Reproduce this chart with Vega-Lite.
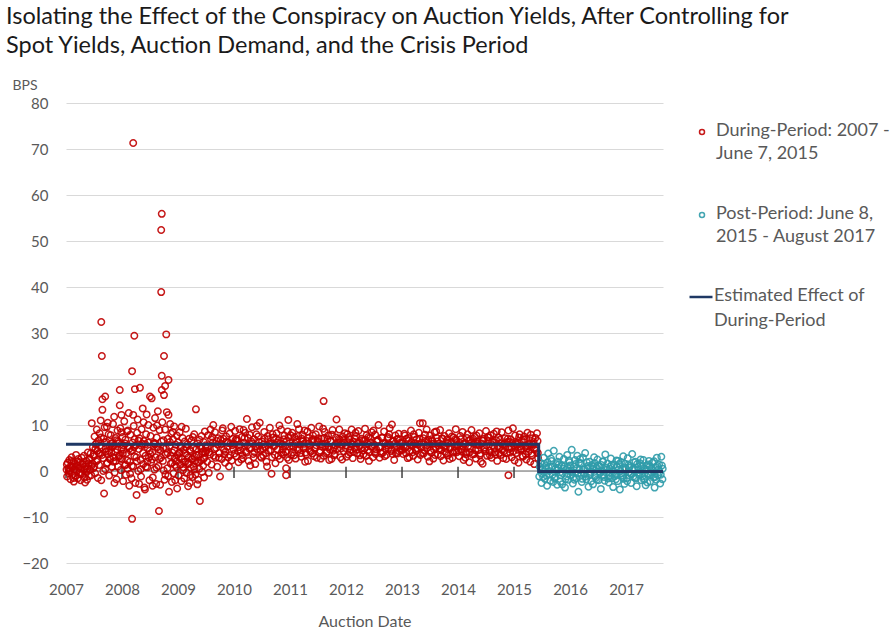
{
"$schema": "https://vega.github.io/schema/vega-lite/v6.json",
"width": 597,
"height": 460,
"autosize": "none",
"padding": {"left": 66, "top": 103, "right": 231, "bottom": 69},
"background": "white",
"title": {
  "text": ["Isolating the Effect of the Conspiracy on Auction Yields, After Controlling for", "Spot Yields, Auction Demand, and the Crisis Period"],
  "anchor": "start", "frame": "group", "dx": -60, "offset": 21,
  "font": "Lato", "fontSize": 23.5, "fontWeight": "normal", "color": "#1a1a1a", "lineHeight": 29
},
"config": {"view": {"stroke": null}},
"datasets": {
"during": [
{"x":2007.01,"y":0.3},{"x":2007.02,"y":-1.2},{"x":2007.03,"y":1.8},{"x":2007.04,"y":0.6},{"x":2007.05,"y":-0.5},{"x":2007.06,"y":2.4},{"x":2007.07,"y":0.1},{"x":2007.08,"y":-1.8},{"x":2007.09,"y":1.1},{"x":2007.10,"y":3.0},{"x":2007.11,"y":-0.8},{"x":2007.12,"y":0.9},{"x":2007.13,"y":2.0},{"x":2007.14,"y":-2.3},{"x":2007.15,"y":0.4},{"x":2007.16,"y":1.5},{"x":2007.17,"y":-1.0},{"x":2007.18,"y":3.5},{"x":2007.19,"y":0.0},{"x":2007.20,"y":1.2},{"x":2007.21,"y":-1.6},{"x":2007.22,"y":2.6},{"x":2007.23,"y":0.7},{"x":2007.24,"y":-0.3},{"x":2007.25,"y":1.9},{"x":2007.26,"y":-2.0},{"x":2007.27,"y":0.8},{"x":2007.28,"y":2.9},{"x":2007.29,"y":-0.6},{"x":2007.30,"y":1.4},{"x":2007.31,"y":0.2},{"x":2007.32,"y":3.3},{"x":2007.33,"y":-1.4},{"x":2007.34,"y":-2.5},{"x":2007.35,"y":1.0},{"x":2007.36,"y":2.2},{"x":2007.37,"y":-0.2},{"x":2007.38,"y":0.5},{"x":2007.39,"y":4.0},{"x":2007.40,"y":1.7},{"x":2007.41,"y":-1.1},{"x":2007.42,"y":2.7},{"x":2007.43,"y":0.3},{"x":2007.44,"y":3.8},{"x":2007.45,"y":-0.9},{"x":2007.46,"y":10.4},{"x":2007.47,"y":1.6},{"x":2007.48,"y":5.2},{"x":2007.49,"y":0.6},
{"x":2007.015,"y":1.4},{"x":2007.055,"y":-0.1},{"x":2007.095,"y":2.2},{"x":2007.135,"y":-1.5},{"x":2007.175,"y":0.9},{"x":2007.215,"y":2.0},{"x":2007.255,"y":-0.7},{"x":2007.295,"y":1.6},{"x":2007.335,"y":0.4},{"x":2007.375,"y":-1.9},{"x":2007.415,"y":2.4},{"x":2007.455,"y":1.1},{"x":2007.495,"y":3.6},
{"x":2007.50,"y":3.2},{"x":2007.51,"y":7.5},{"x":2007.52,"y":-0.5},{"x":2007.53,"y":5.8},{"x":2007.54,"y":2.1},{"x":2007.55,"y":9.0},{"x":2007.56,"y":4.4},{"x":2007.57,"y":-1.5},{"x":2007.58,"y":6.6},{"x":2007.59,"y":1.3},{"x":2007.60,"y":8.2},{"x":2007.61,"y":3.7},{"x":2007.62,"y":11.0},{"x":2007.63,"y":32.4},{"x":2007.63,"y":-2.0},{"x":2007.64,"y":25.0},{"x":2007.64,"y":5.1},{"x":2007.65,"y":15.6},{"x":2007.65,"y":13.3},{"x":2007.66,"y":2.8},{"x":2007.67,"y":7.0},{"x":2007.68,"y":-4.9},{"x":2007.69,"y":9.5},{"x":2007.70,"y":16.2},{"x":2007.70,"y":0.4},{"x":2007.71,"y":4.9},{"x":2007.72,"y":6.3},{"x":2007.73,"y":9.6},{"x":2007.74,"y":1.8},{"x":2007.75,"y":3.6},{"x":2007.76,"y":8.0},{"x":2007.77,"y":-1.0},{"x":2007.78,"y":5.4},{"x":2007.79,"y":2.5},{"x":2007.80,"y":7.8},{"x":2007.81,"y":4.0},{"x":2007.82,"y":0.9},{"x":2007.83,"y":6.1},{"x":2007.84,"y":10.2},{"x":2007.85,"y":3.0},{"x":2007.86,"y":11.8},{"x":2007.86,"y":5.6},{"x":2007.87,"y":-0.3},{"x":2007.88,"y":7.2},{"x":2007.89,"y":2.2},{"x":2007.90,"y":-1.8},{"x":2007.91,"y":4.7},{"x":2007.92,"y":8.8},{"x":2007.93,"y":1.0},{"x":2007.94,"y":6.0},{"x":2007.95,"y":3.4},{"x":2007.96,"y":17.6},{"x":2007.96,"y":14.3},{"x":2007.97,"y":9.3},{"x":2007.98,"y":0.2},{"x":2007.99,"y":12.2},{"x":2007.99,"y":5.0},
{"x":2007.505,"y":1.0},{"x":2007.545,"y":6.0},{"x":2007.585,"y":3.9},{"x":2007.625,"y":7.3},{"x":2007.665,"y":0.0},{"x":2007.705,"y":4.2},{"x":2007.745,"y":10.5},{"x":2007.785,"y":2.7},{"x":2007.825,"y":5.2},{"x":2007.865,"y":-2.6},{"x":2007.905,"y":6.7},{"x":2007.945,"y":3.1},{"x":2007.985,"y":8.4},
{"x":2007.525,"y":4.8},{"x":2007.565,"y":2.4},{"x":2007.605,"y":5.5},{"x":2007.645,"y":3.5},{"x":2007.685,"y":6.2},{"x":2007.725,"y":1.6},{"x":2007.765,"y":4.4},{"x":2007.805,"y":5.9},{"x":2007.845,"y":2.0},{"x":2007.885,"y":4.1},{"x":2007.925,"y":6.4},{"x":2007.965,"y":2.7},
{"x":2008.00,"y":2.6},{"x":2008.01,"y":7.4},{"x":2008.02,"y":-2.2},{"x":2008.03,"y":4.6},{"x":2008.04,"y":10.8},{"x":2008.05,"y":1.2},{"x":2008.06,"y":6.8},{"x":2008.07,"y":-0.8},{"x":2008.08,"y":3.9},{"x":2008.09,"y":8.6},{"x":2008.10,"y":0.5},{"x":2008.11,"y":5.3},{"x":2008.12,"y":12.6},{"x":2008.13,"y":-3.2},{"x":2008.14,"y":2.0},{"x":2008.15,"y":7.9},{"x":2008.16,"y":4.3},{"x":2008.17,"y":-1.6},{"x":2008.18,"y":21.7},{"x":2008.18,"y":-10.4},{"x":2008.19,"y":6.2},{"x":2008.20,"y":71.3},{"x":2008.20,"y":12.2},{"x":2008.20,"y":1.0},{"x":2008.21,"y":9.8},{"x":2008.22,"y":29.4},{"x":2008.22,"y":3.2},{"x":2008.23,"y":17.8},{"x":2008.24,"y":-2.6},{"x":2008.25,"y":5.6},{"x":2008.26,"y":-5.2},{"x":2008.27,"y":8.3},{"x":2008.28,"y":11.2},{"x":2008.29,"y":0.0},{"x":2008.30,"y":4.8},{"x":2008.31,"y":7.1},{"x":2008.32,"y":18.1},{"x":2008.33,"y":2.4},{"x":2008.34,"y":-1.2},{"x":2008.35,"y":9.1},{"x":2008.36,"y":5.9},{"x":2008.37,"y":13.6},{"x":2008.38,"y":1.5},{"x":2008.39,"y":6.5},{"x":2008.40,"y":-3.6},{"x":2008.41,"y":-4.0},{"x":2008.42,"y":3.3},{"x":2008.43,"y":8.0},{"x":2008.44,"y":12.3},{"x":2008.45,"y":0.8},{"x":2008.46,"y":5.0},{"x":2008.47,"y":10.0},{"x":2008.48,"y":2.9},{"x":2008.49,"y":-2.0},{"x":2008.50,"y":16.2},
{"x":2008.025,"y":5.6},{"x":2008.065,"y":1.4},{"x":2008.105,"y":8.8},{"x":2008.145,"y":-0.6},{"x":2008.185,"y":4.5},{"x":2008.225,"y":6.9},{"x":2008.265,"y":2.1},{"x":2008.305,"y":-2.8},{"x":2008.345,"y":5.5},{"x":2008.385,"y":10.6},{"x":2008.425,"y":0.9},{"x":2008.465,"y":6.2},{"x":2008.505,"y":3.7},
{"x":2008.015,"y":3.8},{"x":2008.055,"y":6.0},{"x":2008.095,"y":2.3},{"x":2008.135,"y":4.9},{"x":2008.175,"y":1.1},{"x":2008.215,"y":5.2},{"x":2008.255,"y":3.0},{"x":2008.295,"y":6.6},{"x":2008.335,"y":0.4},{"x":2008.375,"y":3.9},{"x":2008.415,"y":5.8},{"x":2008.455,"y":2.0},{"x":2008.495,"y":4.4},
{"x":2008.51,"y":7.6},{"x":2008.52,"y":1.9},{"x":2008.53,"y":15.8},{"x":2008.54,"y":4.1},{"x":2008.55,"y":-1.4},{"x":2008.56,"y":9.4},{"x":2008.57,"y":6.0},{"x":2008.58,"y":0.3},{"x":2008.59,"y":11.5},{"x":2008.60,"y":3.0},{"x":2008.61,"y":-2.8},{"x":2008.62,"y":7.3},{"x":2008.63,"y":5.2},{"x":2008.64,"y":13.0},{"x":2008.65,"y":1.1},{"x":2008.66,"y":-8.7},{"x":2008.67,"y":8.9},{"x":2008.68,"y":-3.0},{"x":2008.69,"y":4.5},{"x":2008.70,"y":52.4},{"x":2008.70,"y":38.9},{"x":2008.71,"y":55.9},{"x":2008.71,"y":20.7},{"x":2008.71,"y":17.6},{"x":2008.72,"y":10.6},{"x":2008.73,"y":2.2},{"x":2008.74,"y":6.7},{"x":2008.75,"y":25.0},{"x":2008.75,"y":16.5},{"x":2008.76,"y":-1.9},{"x":2008.77,"y":18.5},{"x":2008.77,"y":9.0},{"x":2008.78,"y":3.6},{"x":2008.79,"y":29.7},{"x":2008.80,"y":12.8},{"x":2008.81,"y":0.6},{"x":2008.82,"y":7.0},{"x":2008.83,"y":19.8},{"x":2008.83,"y":12.2},{"x":2008.84,"y":-4.5},{"x":2008.85,"y":5.5},{"x":2008.86,"y":10.2},{"x":2008.87,"y":1.6},{"x":2008.88,"y":8.1},{"x":2008.89,"y":-2.4},{"x":2008.90,"y":4.0},{"x":2008.91,"y":6.9},{"x":2008.92,"y":-0.5},{"x":2008.93,"y":9.7},{"x":2008.94,"y":2.8},{"x":2008.95,"y":-2.0},{"x":2008.96,"y":5.7},{"x":2008.97,"y":0.9},{"x":2008.98,"y":7.7},{"x":2008.99,"y":3.5},
{"x":2008.545,"y":-3.2},{"x":2008.585,"y":5.8},{"x":2008.625,"y":9.9},{"x":2008.665,"y":2.6},{"x":2008.705,"y":6.4},{"x":2008.745,"y":0.1},{"x":2008.785,"y":4.9},{"x":2008.825,"y":-1.1},{"x":2008.865,"y":3.3},{"x":2008.905,"y":8.5},{"x":2008.945,"y":1.3},{"x":2008.985,"y":-3.8},
{"x":2008.535,"y":2.5},{"x":2008.575,"y":6.1},{"x":2008.615,"y":0.7},{"x":2008.655,"y":4.7},{"x":2008.695,"y":2.9},{"x":2008.735,"y":5.0},{"x":2008.775,"y":-0.8},{"x":2008.815,"y":3.9},{"x":2008.855,"y":6.3},{"x":2008.895,"y":1.8},{"x":2008.935,"y":4.5},{"x":2008.975,"y":2.1},
{"x":2009.00,"y":6.2},{"x":2009.01,"y":-1.0},{"x":2009.02,"y":3.9},{"x":2009.03,"y":8.4},{"x":2009.04,"y":1.4},{"x":2009.05,"y":5.1},{"x":2009.06,"y":-2.2},{"x":2009.07,"y":2.6},{"x":2009.08,"y":7.2},{"x":2009.09,"y":0.2},{"x":2009.10,"y":4.6},{"x":2009.11,"y":-1.6},{"x":2009.12,"y":6.4},{"x":2009.13,"y":2.0},{"x":2009.14,"y":9.2},{"x":2009.15,"y":-0.4},{"x":2009.16,"y":3.4},{"x":2009.17,"y":5.8},{"x":2009.18,"y":-3.3},{"x":2009.19,"y":1.7},{"x":2009.20,"y":7.0},{"x":2009.21,"y":-2.6},{"x":2009.22,"y":4.3},{"x":2009.23,"y":0.7},{"x":2009.24,"y":6.6},{"x":2009.25,"y":2.5},{"x":2009.26,"y":-1.3},{"x":2009.27,"y":5.0},{"x":2009.28,"y":1.0},{"x":2009.29,"y":8.0},{"x":2009.30,"y":3.1},{"x":2009.31,"y":-0.8},{"x":2009.32,"y":13.4},{"x":2009.33,"y":4.8},{"x":2009.34,"y":1.9},{"x":2009.35,"y":6.0},{"x":2009.36,"y":-1.9},{"x":2009.37,"y":3.6},{"x":2009.38,"y":0.5},{"x":2009.39,"y":-6.5},{"x":2009.40,"y":5.4},{"x":2009.41,"y":2.3},{"x":2009.42,"y":7.6},{"x":2009.43,"y":-0.2},{"x":2009.44,"y":4.2},{"x":2009.45,"y":1.2},{"x":2009.46,"y":6.3},{"x":2009.47,"y":2.9},{"x":2009.48,"y":8.6},{"x":2009.49,"y":4.0},
{"x":2009.025,"y":4.0},{"x":2009.065,"y":9.6},{"x":2009.105,"y":1.9},{"x":2009.145,"y":5.2},{"x":2009.185,"y":3.0},{"x":2009.225,"y":-0.9},{"x":2009.265,"y":7.4},{"x":2009.305,"y":2.2},{"x":2009.345,"y":-2.9},{"x":2009.385,"y":6.8},{"x":2009.425,"y":3.8},{"x":2009.465,"y":-1.4},{"x":2009.495,"y":5.0},
{"x":2009.015,"y":3.0},{"x":2009.055,"y":5.5},{"x":2009.095,"y":0.8},{"x":2009.135,"y":3.8},{"x":2009.175,"y":1.5},{"x":2009.215,"y":4.6},{"x":2009.255,"y":2.7},{"x":2009.295,"y":0.3},{"x":2009.335,"y":3.5},{"x":2009.375,"y":1.9},{"x":2009.415,"y":4.9},{"x":2009.455,"y":2.6},
{"x":2009.50,"y":5.6},{"x":2009.52,"y":2.0},{"x":2009.54,"y":7.8},{"x":2009.56,"y":4.1},{"x":2009.58,"y":9.0},{"x":2009.60,"y":1.4},{"x":2009.62,"y":6.2},{"x":2009.64,"y":3.3},{"x":2009.66,"y":8.4},{"x":2009.68,"y":5.0},{"x":2009.70,"y":0.9},{"x":2009.72,"y":7.1},{"x":2009.74,"y":3.9},{"x":2009.76,"y":6.8},{"x":2009.78,"y":2.6},{"x":2009.80,"y":9.3},{"x":2009.82,"y":4.6},{"x":2009.84,"y":1.8},{"x":2009.86,"y":7.5},{"x":2009.88,"y":5.3},{"x":2009.90,"y":3.0},{"x":2009.92,"y":8.1},{"x":2009.94,"y":6.0},{"x":2009.96,"y":2.3},{"x":2009.98,"y":7.0},
{"x":2009.51,"y":4.4},{"x":2009.55,"y":-0.4},{"x":2009.59,"y":6.9},{"x":2009.63,"y":10.0},{"x":2009.67,"y":2.9},{"x":2009.71,"y":5.7},{"x":2009.75,"y":-1.2},{"x":2009.79,"y":8.8},{"x":2009.83,"y":3.6},{"x":2009.87,"y":6.4},{"x":2009.91,"y":1.0},{"x":2009.95,"y":9.6},{"x":2009.99,"y":4.8},
{"x":2009.53,"y":5.2},{"x":2009.57,"y":3.6},{"x":2009.61,"y":7.4},{"x":2009.65,"y":4.8},{"x":2009.69,"y":6.5},{"x":2009.73,"y":2.9},{"x":2009.77,"y":5.9},{"x":2009.81,"y":7.0},{"x":2009.85,"y":4.2},{"x":2009.89,"y":6.1},{"x":2009.93,"y":3.4},{"x":2009.97,"y":5.6},
{"x":2010.00,"y":5.9},{"x":2010.02,"y":8.7},{"x":2010.04,"y":3.2},{"x":2010.06,"y":6.6},{"x":2010.08,"y":1.9},{"x":2010.10,"y":9.1},{"x":2010.12,"y":4.5},{"x":2010.14,"y":7.4},{"x":2010.16,"y":2.8},{"x":2010.18,"y":6.1},{"x":2010.20,"y":8.3},{"x":2010.22,"y":4.0},{"x":2010.23,"y":11.3},{"x":2010.24,"y":5.6},{"x":2010.26,"y":2.2},{"x":2010.28,"y":7.9},{"x":2010.30,"y":5.0},{"x":2010.32,"y":9.5},{"x":2010.34,"y":3.7},{"x":2010.36,"y":6.9},{"x":2010.38,"y":1.5},{"x":2010.40,"y":8.0},{"x":2010.42,"y":4.8},{"x":2010.44,"y":6.3},{"x":2010.46,"y":10.5},{"x":2010.48,"y":3.1},
{"x":2010.01,"y":3.8},{"x":2010.05,"y":7.0},{"x":2010.09,"y":5.2},{"x":2010.13,"y":2.5},{"x":2010.17,"y":8.9},{"x":2010.21,"y":4.3},{"x":2010.25,"y":7.2},{"x":2010.29,"y":1.2},{"x":2010.33,"y":6.0},{"x":2010.37,"y":4.1},{"x":2010.41,"y":9.8},{"x":2010.45,"y":5.5},{"x":2010.49,"y":2.9},
{"x":2010.03,"y":6.8},{"x":2010.07,"y":4.3},{"x":2010.11,"y":5.7},{"x":2010.15,"y":3.5},{"x":2010.19,"y":7.2},{"x":2010.27,"y":4.9},{"x":2010.31,"y":6.4},{"x":2010.35,"y":3.0},{"x":2010.39,"y":5.3},{"x":2010.43,"y":7.5},{"x":2010.47,"y":4.6},
{"x":2010.50,"y":6.4},{"x":2010.52,"y":3.4},{"x":2010.54,"y":8.5},{"x":2010.56,"y":5.1},{"x":2010.58,"y":2.0},{"x":2010.60,"y":7.6},{"x":2010.62,"y":4.4},{"x":2010.64,"y":9.4},{"x":2010.66,"y":6.0},{"x":2010.67,"y":-0.6},{"x":2010.68,"y":3.0},{"x":2010.70,"y":7.3},{"x":2010.72,"y":5.4},{"x":2010.74,"y":1.7},{"x":2010.76,"y":8.2},{"x":2010.78,"y":4.7},{"x":2010.80,"y":6.7},{"x":2010.82,"y":2.6},{"x":2010.84,"y":9.0},{"x":2010.86,"y":5.8},{"x":2010.88,"y":3.6},{"x":2010.90,"y":7.7},{"x":2010.92,"y":4.2},{"x":2010.93,"y":0.6},{"x":2010.93,"y":-0.9},{"x":2010.94,"y":6.5},{"x":2010.96,"y":8.6},{"x":2010.97,"y":11.1},{"x":2010.98,"y":2.4},
{"x":2010.51,"y":4.9},{"x":2010.55,"y":7.0},{"x":2010.59,"y":1.0},{"x":2010.63,"y":5.9},{"x":2010.69,"y":8.0},{"x":2010.73,"y":3.5},{"x":2010.77,"y":6.2},{"x":2010.81,"y":9.9},{"x":2010.85,"y":4.0},{"x":2010.89,"y":6.9},{"x":2010.95,"y":2.9},{"x":2010.99,"y":5.3},
{"x":2010.53,"y":5.8},{"x":2010.57,"y":3.9},{"x":2010.61,"y":6.9},{"x":2010.65,"y":4.5},{"x":2010.71,"y":5.6},{"x":2010.75,"y":7.1},{"x":2010.79,"y":3.3},{"x":2010.83,"y":6.0},{"x":2010.87,"y":4.7},{"x":2010.91,"y":5.4},{"x":2010.975,"y":7.3},
{"x":2011.00,"y":6.1},{"x":2011.02,"y":3.5},{"x":2011.04,"y":8.3},{"x":2011.06,"y":5.2},{"x":2011.08,"y":7.4},{"x":2011.10,"y":2.7},{"x":2011.12,"y":6.8},{"x":2011.13,"y":10.2},{"x":2011.14,"y":4.6},{"x":2011.16,"y":9.1},{"x":2011.18,"y":5.7},{"x":2011.20,"y":3.1},{"x":2011.22,"y":7.9},{"x":2011.24,"y":5.0},{"x":2011.26,"y":8.8},{"x":2011.28,"y":4.0},{"x":2011.30,"y":6.5},{"x":2011.32,"y":2.2},{"x":2011.34,"y":7.2},{"x":2011.36,"y":5.5},{"x":2011.38,"y":9.4},{"x":2011.40,"y":3.8},{"x":2011.42,"y":6.9},{"x":2011.44,"y":4.9},{"x":2011.46,"y":8.0},{"x":2011.48,"y":2.9},{"x":2011.50,"y":6.3},{"x":2011.52,"y":9.7},{"x":2011.54,"y":4.4},{"x":2011.56,"y":7.0},{"x":2011.58,"y":5.3},{"x":2011.60,"y":15.2},{"x":2011.60,"y":3.3},{"x":2011.62,"y":8.5},{"x":2011.64,"y":6.0},{"x":2011.66,"y":4.2},{"x":2011.68,"y":7.7},{"x":2011.70,"y":2.4},{"x":2011.72,"y":6.6},{"x":2011.74,"y":2.6},{"x":2011.76,"y":8.9},{"x":2011.78,"y":5.1},{"x":2011.80,"y":3.7},{"x":2011.82,"y":7.3},{"x":2011.83,"y":11.2},{"x":2011.84,"y":4.8},{"x":2011.86,"y":6.2},{"x":2011.88,"y":9.0},{"x":2011.90,"y":3.0},{"x":2011.92,"y":5.8},{"x":2011.94,"y":7.5},{"x":2011.96,"y":4.3},{"x":2011.98,"y":8.2},
{"x":2011.01,"y":7.8},{"x":2011.05,"y":4.1},{"x":2011.09,"y":5.9},{"x":2011.15,"y":7.6},{"x":2011.19,"y":3.9},{"x":2011.23,"y":6.4},{"x":2011.27,"y":2.0},{"x":2011.31,"y":8.6},{"x":2011.35,"y":4.5},{"x":2011.39,"y":6.7},{"x":2011.43,"y":3.2},{"x":2011.47,"y":5.6},{"x":2011.51,"y":7.1},{"x":2011.55,"y":2.7},{"x":2011.59,"y":9.2},{"x":2011.63,"y":5.4},{"x":2011.67,"y":6.9},{"x":2011.71,"y":4.7},{"x":2011.75,"y":7.9},{"x":2011.79,"y":3.4},{"x":2011.85,"y":5.9},{"x":2011.89,"y":6.8},{"x":2011.93,"y":2.5},{"x":2011.97,"y":6.1},
{"x":2011.03,"y":5.5},{"x":2011.07,"y":3.4},{"x":2011.11,"y":6.3},{"x":2011.17,"y":4.8},{"x":2011.21,"y":7.0},{"x":2011.25,"y":5.9},{"x":2011.29,"y":3.6},{"x":2011.33,"y":6.0},{"x":2011.37,"y":4.2},{"x":2011.41,"y":7.7},{"x":2011.45,"y":5.1},{"x":2011.49,"y":6.6},{"x":2011.53,"y":4.0},{"x":2011.57,"y":5.8},{"x":2011.61,"y":7.2},{"x":2011.65,"y":3.9},{"x":2011.69,"y":5.2},{"x":2011.73,"y":6.4},{"x":2011.77,"y":4.4},{"x":2011.81,"y":5.6},{"x":2011.87,"y":7.0},{"x":2011.91,"y":4.9},{"x":2011.95,"y":6.7},{"x":2011.99,"y":5.0},
{"x":2012.00,"y":5.6},{"x":2012.02,"y":8.0},{"x":2012.04,"y":3.6},{"x":2012.06,"y":6.9},{"x":2012.08,"y":4.6},{"x":2012.10,"y":9.0},{"x":2012.12,"y":2.8},{"x":2012.14,"y":6.3},{"x":2012.16,"y":5.0},{"x":2012.18,"y":7.6},{"x":2012.20,"y":3.9},{"x":2012.22,"y":8.7},{"x":2012.24,"y":5.4},{"x":2012.26,"y":2.6},{"x":2012.28,"y":7.0},{"x":2012.30,"y":4.4},{"x":2012.32,"y":6.6},{"x":2012.34,"y":9.2},{"x":2012.36,"y":3.3},{"x":2012.38,"y":5.9},{"x":2012.40,"y":7.4},{"x":2012.42,"y":4.1},{"x":2012.44,"y":6.2},{"x":2012.46,"y":8.4},{"x":2012.48,"y":3.0},{"x":2012.50,"y":5.7},{"x":2012.52,"y":7.9},{"x":2012.54,"y":4.7},{"x":2012.56,"y":6.5},{"x":2012.58,"y":10.0},{"x":2012.60,"y":2.9},{"x":2012.62,"y":5.2},{"x":2012.64,"y":7.3},{"x":2012.66,"y":4.0},{"x":2012.68,"y":8.6},{"x":2012.70,"y":6.0},{"x":2012.72,"y":3.5},{"x":2012.74,"y":7.1},{"x":2012.76,"y":5.0},{"x":2012.78,"y":9.3},{"x":2012.80,"y":4.3},{"x":2012.82,"y":10.1},{"x":2012.84,"y":6.4},{"x":2012.86,"y":2.4},{"x":2012.88,"y":7.7},{"x":2012.90,"y":5.5},{"x":2012.92,"y":3.8},{"x":2012.94,"y":8.1},{"x":2012.96,"y":6.1},{"x":2012.98,"y":4.5},
{"x":2012.01,"y":3.1},{"x":2012.05,"y":7.4},{"x":2012.09,"y":5.8},{"x":2012.13,"y":4.2},{"x":2012.17,"y":8.3},{"x":2012.21,"y":6.0},{"x":2012.25,"y":3.4},{"x":2012.29,"y":6.7},{"x":2012.33,"y":4.9},{"x":2012.37,"y":7.8},{"x":2012.41,"y":2.2},{"x":2012.45,"y":5.3},{"x":2012.49,"y":8.8},{"x":2012.53,"y":3.7},{"x":2012.57,"y":6.8},{"x":2012.61,"y":5.1},{"x":2012.65,"y":7.2},{"x":2012.69,"y":3.2},{"x":2012.73,"y":5.6},{"x":2012.77,"y":8.0},{"x":2012.81,"y":4.6},{"x":2012.85,"y":6.6},{"x":2012.89,"y":3.9},{"x":2012.93,"y":7.0},{"x":2012.97,"y":5.4},
{"x":2012.03,"y":6.3},{"x":2012.07,"y":4.0},{"x":2012.11,"y":5.9},{"x":2012.15,"y":7.1},{"x":2012.19,"y":4.7},{"x":2012.23,"y":6.2},{"x":2012.27,"y":5.0},{"x":2012.31,"y":3.6},{"x":2012.35,"y":6.8},{"x":2012.39,"y":4.5},{"x":2012.43,"y":7.2},{"x":2012.47,"y":5.4},{"x":2012.51,"y":4.1},{"x":2012.55,"y":6.4},{"x":2012.59,"y":5.2},{"x":2012.63,"y":3.8},{"x":2012.67,"y":6.1},{"x":2012.71,"y":4.8},{"x":2012.75,"y":7.4},{"x":2012.79,"y":5.7},{"x":2012.83,"y":3.7},{"x":2012.87,"y":5.9},{"x":2012.91,"y":6.9},{"x":2012.95,"y":4.3},{"x":2012.99,"y":6.0},
{"x":2013.00,"y":6.2},{"x":2013.02,"y":3.7},{"x":2013.04,"y":8.1},{"x":2013.06,"y":5.1},{"x":2013.08,"y":7.0},{"x":2013.10,"y":2.8},{"x":2013.12,"y":6.6},{"x":2013.14,"y":4.3},{"x":2013.16,"y":8.8},{"x":2013.18,"y":5.6},{"x":2013.20,"y":3.3},{"x":2013.22,"y":7.4},{"x":2013.24,"y":4.8},{"x":2013.26,"y":6.9},{"x":2013.28,"y":2.5},{"x":2013.30,"y":8.3},{"x":2013.32,"y":10.4},{"x":2013.34,"y":5.3},{"x":2013.36,"y":3.9},{"x":2013.37,"y":10.4},{"x":2013.38,"y":7.1},{"x":2013.40,"y":4.5},{"x":2013.42,"y":6.3},{"x":2013.44,"y":9.0},{"x":2013.46,"y":3.1},{"x":2013.48,"y":5.9},{"x":2013.50,"y":7.7},{"x":2013.52,"y":4.0},{"x":2013.54,"y":6.5},{"x":2013.56,"y":2.7},{"x":2013.58,"y":8.4},{"x":2013.60,"y":5.2},{"x":2013.62,"y":7.2},{"x":2013.64,"y":3.6},{"x":2013.66,"y":6.0},{"x":2013.68,"y":8.9},{"x":2013.70,"y":4.6},{"x":2013.72,"y":5.7},{"x":2013.74,"y":2.3},{"x":2013.76,"y":7.6},{"x":2013.78,"y":5.0},{"x":2013.80,"y":6.8},{"x":2013.82,"y":3.4},{"x":2013.84,"y":8.2},{"x":2013.86,"y":4.9},{"x":2013.88,"y":6.4},{"x":2013.90,"y":2.9},{"x":2013.92,"y":7.3},{"x":2013.94,"y":5.4},{"x":2013.96,"y":9.1},{"x":2013.98,"y":4.1},
{"x":2013.01,"y":4.6},{"x":2013.05,"y":7.7},{"x":2013.09,"y":5.4},{"x":2013.13,"y":3.0},{"x":2013.17,"y":6.3},{"x":2013.21,"y":8.0},{"x":2013.25,"y":4.4},{"x":2013.29,"y":5.8},{"x":2013.33,"y":3.5},{"x":2013.41,"y":7.9},{"x":2013.45,"y":5.0},{"x":2013.49,"y":2.1},{"x":2013.53,"y":6.9},{"x":2013.57,"y":4.7},{"x":2013.61,"y":8.6},{"x":2013.65,"y":5.5},{"x":2013.69,"y":3.2},{"x":2013.73,"y":7.0},{"x":2013.77,"y":4.2},{"x":2013.81,"y":6.1},{"x":2013.85,"y":2.6},{"x":2013.89,"y":7.5},{"x":2013.93,"y":4.4},{"x":2013.97,"y":6.7},
{"x":2013.03,"y":5.4},{"x":2013.07,"y":3.9},{"x":2013.11,"y":7.2},{"x":2013.15,"y":5.8},{"x":2013.19,"y":4.1},{"x":2013.23,"y":6.0},{"x":2013.27,"y":4.9},{"x":2013.31,"y":7.0},{"x":2013.35,"y":6.2},{"x":2013.39,"y":3.8},{"x":2013.43,"y":5.5},{"x":2013.47,"y":6.8},{"x":2013.51,"y":4.4},{"x":2013.55,"y":5.9},{"x":2013.59,"y":3.5},{"x":2013.63,"y":6.4},{"x":2013.67,"y":4.9},{"x":2013.71,"y":7.1},{"x":2013.75,"y":5.3},{"x":2013.79,"y":3.9},{"x":2013.83,"y":6.0},{"x":2013.87,"y":5.1},{"x":2013.91,"y":4.0},{"x":2013.95,"y":6.9},{"x":2013.99,"y":5.5},
{"x":2014.00,"y":5.8},{"x":2014.02,"y":3.2},{"x":2014.04,"y":7.6},{"x":2014.06,"y":4.7},{"x":2014.08,"y":8.5},{"x":2014.10,"y":2.4},{"x":2014.12,"y":6.1},{"x":2014.14,"y":4.0},{"x":2014.16,"y":7.2},{"x":2014.18,"y":5.4},{"x":2014.20,"y":1.9},{"x":2014.22,"y":6.8},{"x":2014.24,"y":8.9},{"x":2014.26,"y":3.6},{"x":2014.28,"y":5.9},{"x":2014.30,"y":7.4},{"x":2014.32,"y":2.7},{"x":2014.34,"y":6.4},{"x":2014.36,"y":4.5},{"x":2014.38,"y":8.2},{"x":2014.40,"y":3.8},{"x":2014.42,"y":6.0},{"x":2014.44,"y":1.6},{"x":2014.46,"y":7.0},{"x":2014.48,"y":5.1},{"x":2014.50,"y":8.7},{"x":2014.52,"y":3.3},{"x":2014.54,"y":6.5},{"x":2014.56,"y":4.4},{"x":2014.58,"y":7.8},{"x":2014.60,"y":2.9},{"x":2014.62,"y":5.6},{"x":2014.64,"y":8.1},{"x":2014.66,"y":4.1},{"x":2014.68,"y":6.7},{"x":2014.70,"y":2.2},{"x":2014.72,"y":7.3},{"x":2014.74,"y":5.0},{"x":2014.76,"y":3.5},{"x":2014.78,"y":8.4},{"x":2014.80,"y":5.7},{"x":2014.82,"y":4.3},{"x":2014.84,"y":7.1},{"x":2014.86,"y":2.6},{"x":2014.88,"y":6.3},{"x":2014.90,"y":-0.9},{"x":2014.90,"y":8.8},{"x":2014.92,"y":4.8},{"x":2014.94,"y":6.9},{"x":2014.96,"y":3.0},{"x":2014.98,"y":9.3},{"x":2015.00,"y":5.5},{"x":2015.02,"y":7.7},{"x":2015.04,"y":3.9},{"x":2015.06,"y":6.2},{"x":2015.08,"y":1.8},{"x":2015.10,"y":8.0},{"x":2015.12,"y":4.6},{"x":2015.14,"y":6.6},{"x":2015.16,"y":3.1},{"x":2015.18,"y":7.5},{"x":2015.20,"y":5.2},{"x":2015.22,"y":2.5},{"x":2015.24,"y":8.3},{"x":2015.26,"y":4.2},{"x":2015.28,"y":6.0},{"x":2015.30,"y":7.9},{"x":2015.32,"y":3.4},{"x":2015.34,"y":5.8},{"x":2015.36,"y":1.5},{"x":2015.38,"y":7.2},{"x":2015.40,"y":4.4},{"x":2015.42,"y":6.5},{"x":2015.43,"y":2.8},
{"x":2014.01,"y":4.4},{"x":2014.05,"y":6.9},{"x":2014.09,"y":5.3},{"x":2014.13,"y":2.9},{"x":2014.17,"y":8.0},{"x":2014.21,"y":4.1},{"x":2014.25,"y":6.2},{"x":2014.29,"y":3.7},{"x":2014.33,"y":7.7},{"x":2014.37,"y":5.6},{"x":2014.41,"y":2.0},{"x":2014.45,"y":6.6},{"x":2014.49,"y":4.3},{"x":2014.53,"y":7.4},{"x":2014.57,"y":3.4},{"x":2014.61,"y":6.4},{"x":2014.65,"y":5.0},{"x":2014.69,"y":8.6},{"x":2014.73,"y":3.9},{"x":2014.77,"y":6.0},{"x":2014.81,"y":2.8},{"x":2014.85,"y":5.3},{"x":2014.89,"y":7.0},{"x":2014.93,"y":4.0},{"x":2014.97,"y":6.1},{"x":2015.01,"y":2.3},{"x":2015.05,"y":5.7},{"x":2015.09,"y":7.3},{"x":2015.13,"y":4.9},{"x":2015.17,"y":6.8},{"x":2015.21,"y":3.6},{"x":2015.25,"y":5.4},{"x":2015.29,"y":2.0},{"x":2015.33,"y":7.1},{"x":2015.37,"y":4.7},{"x":2015.41,"y":8.2},
{"x":2014.03,"y":6.1},{"x":2014.07,"y":4.2},{"x":2014.11,"y":5.8},{"x":2014.15,"y":3.7},{"x":2014.19,"y":6.6},{"x":2014.23,"y":5.0},{"x":2014.27,"y":7.0},{"x":2014.31,"y":4.5},{"x":2014.35,"y":5.9},{"x":2014.39,"y":3.4},{"x":2014.43,"y":6.7},{"x":2014.47,"y":4.8},{"x":2014.51,"y":5.6},{"x":2014.55,"y":7.3},{"x":2014.59,"y":4.0},{"x":2014.63,"y":6.2},{"x":2014.67,"y":3.6},{"x":2014.71,"y":5.4},{"x":2014.75,"y":6.8},{"x":2014.79,"y":4.5},{"x":2014.83,"y":5.9},{"x":2014.87,"y":3.9},{"x":2014.91,"y":6.4},{"x":2014.95,"y":5.1},{"x":2014.99,"y":4.3},{"x":2015.03,"y":6.0},{"x":2015.07,"y":4.6},{"x":2015.11,"y":5.4},{"x":2015.15,"y":3.3},{"x":2015.19,"y":6.9},{"x":2015.23,"y":4.9},{"x":2015.27,"y":5.7},{"x":2015.31,"y":3.8},{"x":2015.35,"y":6.3},{"x":2015.39,"y":5.0},{"x":2015.425,"y":3.9}
],
"post": [
{"x":2015.45,"y":-1.2},{"x":2015.47,"y":1.8},{"x":2015.49,"y":-2.6},{"x":2015.51,"y":0.4},{"x":2015.53,"y":2.9},{"x":2015.55,"y":-1.7},{"x":2015.57,"y":1.1},{"x":2015.59,"y":-3.2},{"x":2015.61,"y":3.8},{"x":2015.63,"y":0.0},{"x":2015.65,"y":-2.1},{"x":2015.67,"y":2.2},{"x":2015.69,"y":-0.8},{"x":2015.71,"y":4.4},{"x":2015.73,"y":-1.4},{"x":2015.75,"y":1.5},{"x":2015.77,"y":-3.0},{"x":2015.79,"y":0.7},{"x":2015.81,"y":3.1},{"x":2015.83,"y":-2.3},{"x":2015.85,"y":1.2},{"x":2015.87,"y":-0.5},{"x":2015.89,"y":2.6},{"x":2015.91,"y":-3.6},{"x":2015.93,"y":0.3},{"x":2015.95,"y":3.5},{"x":2015.97,"y":-1.9},{"x":2015.99,"y":1.9},{"x":2016.01,"y":-0.9},{"x":2016.03,"y":4.6},{"x":2016.05,"y":-2.7},{"x":2016.07,"y":0.9},{"x":2016.09,"y":2.4},{"x":2016.11,"y":-1.5},{"x":2016.13,"y":3.3},{"x":2016.15,"y":-4.5},{"x":2016.17,"y":0.2},{"x":2016.19,"y":1.7},{"x":2016.21,"y":-2.4},{"x":2016.23,"y":2.9},{"x":2016.25,"y":-0.6},{"x":2016.27,"y":3.9},{"x":2016.29,"y":-1.8},{"x":2016.31,"y":0.6},{"x":2016.33,"y":-3.4},{"x":2016.35,"y":2.0},{"x":2016.37,"y":-0.2},{"x":2016.39,"y":1.3},{"x":2016.41,"y":-2.9},{"x":2016.43,"y":3.0},{"x":2016.45,"y":-1.1},{"x":2016.47,"y":0.8},{"x":2016.49,"y":2.5},{"x":2016.51,"y":-2.0},{"x":2016.53,"y":1.0},{"x":2016.55,"y":-3.9},{"x":2016.57,"y":0.1},{"x":2016.59,"y":2.1},{"x":2016.61,"y":-1.3},{"x":2016.63,"y":3.6},{"x":2016.65,"y":-0.4},{"x":2016.67,"y":1.6},{"x":2016.69,"y":-2.5},{"x":2016.71,"y":0.5},{"x":2016.73,"y":2.7},{"x":2016.75,"y":-1.6},{"x":2016.77,"y":-3.5},{"x":2016.79,"y":1.4},{"x":2016.81,"y":-0.7},{"x":2016.83,"y":2.3},{"x":2016.85,"y":-2.2},{"x":2016.87,"y":0.3},{"x":2016.89,"y":-4.0},{"x":2016.91,"y":1.9},{"x":2016.93,"y":-1.0},{"x":2016.95,"y":3.2},{"x":2016.97,"y":-2.8},{"x":2016.99,"y":0.7},{"x":2017.01,"y":-1.5},{"x":2017.03,"y":2.8},{"x":2017.05,"y":-0.3},{"x":2017.07,"y":1.1},{"x":2017.09,"y":-2.6},{"x":2017.11,"y":3.7},{"x":2017.13,"y":-1.2},{"x":2017.15,"y":0.4},{"x":2017.17,"y":2.0},{"x":2017.19,"y":-3.3},{"x":2017.21,"y":0.9},{"x":2017.23,"y":-0.8},{"x":2017.25,"y":1.7},{"x":2017.27,"y":-2.0},{"x":2017.29,"y":0.0},{"x":2017.31,"y":2.4},{"x":2017.33,"y":-1.7},{"x":2017.35,"y":-3.1},{"x":2017.37,"y":1.2},{"x":2017.39,"y":-0.6},{"x":2017.41,"y":2.2},{"x":2017.43,"y":-2.3},{"x":2017.45,"y":0.6},{"x":2017.47,"y":1.8},{"x":2017.49,"y":-1.4},{"x":2017.51,"y":-3.6},{"x":2017.53,"y":0.8},{"x":2017.55,"y":2.9},{"x":2017.57,"y":-0.9},{"x":2017.59,"y":1.4},{"x":2017.61,"y":-2.7},{"x":2017.63,"y":3.1},{"x":2017.65,"y":-1.8},
{"x":2015.46,"y":0.9},{"x":2015.50,"y":-0.6},{"x":2015.54,"y":1.6},{"x":2015.58,"y":-1.0},{"x":2015.62,"y":0.8},{"x":2015.66,"y":2.7},{"x":2015.70,"y":-2.4},{"x":2015.74,"y":0.5},{"x":2015.78,"y":2.0},{"x":2015.82,"y":-0.3},{"x":2015.86,"y":-2.9},{"x":2015.90,"y":1.0},{"x":2015.94,"y":-1.2},{"x":2015.98,"y":2.3},{"x":2016.02,"y":0.1},{"x":2016.06,"y":-1.4},{"x":2016.10,"y":1.5},{"x":2016.14,"y":-0.5},{"x":2016.18,"y":2.6},{"x":2016.22,"y":-1.7},{"x":2016.26,"y":0.4},{"x":2016.30,"y":1.9},{"x":2016.34,"y":-0.9},{"x":2016.38,"y":-2.2},{"x":2016.42,"y":0.9},{"x":2016.46,"y":-1.5},{"x":2016.50,"y":1.2},{"x":2016.54,"y":-0.4},{"x":2016.58,"y":2.0},{"x":2016.62,"y":-2.1},{"x":2016.66,"y":0.3},{"x":2016.70,"y":-1.0},{"x":2016.74,"y":1.3},{"x":2016.78,"y":-0.2},{"x":2016.82,"y":-1.8},{"x":2016.86,"y":2.2},{"x":2016.90,"y":0.0},{"x":2016.94,"y":-1.3},{"x":2016.98,"y":1.6},{"x":2017.02,"y":-2.2},{"x":2017.06,"y":0.7},{"x":2017.10,"y":-0.7},{"x":2017.14,"y":1.9},{"x":2017.18,"y":-1.6},{"x":2017.22,"y":0.2},{"x":2017.26,"y":2.5},{"x":2017.30,"y":-1.1},{"x":2017.34,"y":0.5},{"x":2017.38,"y":-2.5},{"x":2017.42,"y":1.0},{"x":2017.46,"y":-0.4},{"x":2017.50,"y":2.1},{"x":2017.54,"y":-1.9},{"x":2017.58,"y":0.4},{"x":2017.62,"y":-0.8},{"x":2017.64,"y":1.2},
{"x":2015.48,"y":0.2},{"x":2015.52,"y":-1.3},{"x":2015.56,"y":0.6},{"x":2015.60,"y":1.9},{"x":2015.64,"y":-0.7},{"x":2015.68,"y":0.9},{"x":2015.72,"y":-1.6},{"x":2015.76,"y":0.1},{"x":2015.80,"y":1.4},{"x":2015.84,"y":-0.9},{"x":2015.88,"y":0.5},{"x":2015.92,"y":-1.8},{"x":2015.96,"y":0.8},{"x":2016.00,"y":1.2},{"x":2016.04,"y":-0.3},{"x":2016.08,"y":-1.9},{"x":2016.12,"y":0.6},{"x":2016.16,"y":1.8},{"x":2016.20,"y":-0.8},{"x":2016.24,"y":0.3},{"x":2016.28,"y":-1.2},{"x":2016.32,"y":1.1},{"x":2016.36,"y":-0.6},{"x":2016.40,"y":0.4},{"x":2016.44,"y":1.7},{"x":2016.48,"y":-1.9},{"x":2016.52,"y":-0.1},{"x":2016.56,"y":1.3},{"x":2016.60,"y":-0.9},{"x":2016.64,"y":0.7},{"x":2016.68,"y":-1.6},{"x":2016.72,"y":1.0},{"x":2016.76,"y":0.0},{"x":2016.80,"y":-1.1},{"x":2016.84,"y":0.9},{"x":2016.88,"y":1.5},{"x":2016.92,"y":-0.5},{"x":2016.96,"y":-1.7},{"x":2017.00,"y":0.5},{"x":2017.04,"y":1.3},{"x":2017.08,"y":-0.6},{"x":2017.12,"y":0.3},{"x":2017.16,"y":-1.4},{"x":2017.20,"y":1.5},{"x":2017.24,"y":-0.4},{"x":2017.28,"y":0.9},{"x":2017.32,"y":-1.9},{"x":2017.36,"y":0.2},{"x":2017.40,"y":1.4},{"x":2017.44,"y":-0.8},{"x":2017.48,"y":0.1},{"x":2017.52,"y":-1.3},{"x":2017.56,"y":1.1},{"x":2017.60,"y":-0.2},{"x":2017.655,"y":0.5}
],
"effect": [{"x":2007,"y":5.8},{"x":2015.44,"y":-0.1},{"x":2017.66,"y":-0.1}],
"years": [{"x":2007},{"x":2008},{"x":2009},{"x":2010},{"x":2011},{"x":2012},{"x":2013},{"x":2014},{"x":2015},{"x":2016},{"x":2017}]
},
"layer": [
  {
    "data": {"values": [{}]},
    "mark": {"type": "rule", "color": "#9a9a9a", "strokeWidth": 1.3},
    "encoding": {
      "y": {"datum": 0, "type": "quantitative",
        "scale": {"domain": [-20, 80], "nice": false, "zero": false},
        "axis": {"values": [-20,-10,0,10,20,30,40,50,60,70,80],
          "grid": true, "gridColor": "#d9d9d9", "gridWidth": 1, "domain": false, "ticks": false, "tickSize": 0,
          "labelPadding": 18, "labelFont": "Lato", "labelFontSize": 15, "labelColor": "#595959",
          "title": "BPS", "titleAngle": 0, "titleAlign": "left", "titleBaseline": "bottom",
          "titleX": -54, "titleY": -11, "titleFont": "Lato", "titleFontSize": 14, "titleFontWeight": "normal",
          "titleColor": "#595959"}}
    }
  },
  {
    "data": {"name": "years"},
    "mark": {"type": "rule", "color": "#404040", "strokeWidth": 1.5},
    "encoding": {
      "x": {"field": "x", "type": "quantitative",
        "scale": {"domain": [2007, 2017.66], "nice": false, "zero": false},
        "axis": {"values": [2007,2008,2009,2010,2011,2012,2013,2014,2015,2016,2017], "format": "d",
          "grid": false, "domain": false, "ticks": false, "tickSize": 0, "labelPadding": 19,
          "labelFlush": false, "labelOverlap": false, "labelBound": false,
          "labelFont": "Lato", "labelFontSize": 15, "labelColor": "#595959",
          "title": "Auction Date", "titleFont": "Lato", "titleFontSize": 16, "titleFontWeight": "normal",
          "titleColor": "#595959", "titlePadding": 16}},
      "y": {"datum": 0.9, "type": "quantitative"},
      "y2": {"datum": -1.5}
    }
  },
  {
    "data": {"name": "during"},
    "mark": {"type": "point", "shape": "circle", "filled": false, "size": 42, "strokeWidth": 1.5, "opacity": 0.9},
    "encoding": {
      "x": {"field": "x", "type": "quantitative"},
      "y": {"field": "y", "type": "quantitative"},
      "color": {"datum": "During", "type": "nominal",
        "scale": {"domain": ["During", "Post"], "range": ["#C00000", "#2F9CAA"]},
        "legend": {"orient": "none", "legendX": 627, "legendY": 20, "padding": 0,
          "symbolType": "circle", "symbolSize": 25, "symbolStrokeWidth": 1.5, "symbolFillColor": "white",
          "labelFont": "Lato", "labelFontSize": 18, "labelColor": "#595959", "labelLimit": 300,
          "labelOffset": 5, "labelBaseline": "top", "rowPadding": 42,
          "labelExpr": "datum.label == 'During' ? ['During-Period: 2007 -', 'June 7, 2015'] : ['Post-Period: June 8,', '2015 - August 2017']",
          "encoding": {"labels": {"dy": {"value": -10}, "lineHeight": {"value": 23}}},
          "title": null}}
    }
  },
  {
    "data": {"name": "post"},
    "mark": {"type": "point", "shape": "circle", "filled": false, "size": 42, "strokeWidth": 1.5, "opacity": 0.9},
    "encoding": {
      "x": {"field": "x", "type": "quantitative"},
      "y": {"field": "y", "type": "quantitative"},
      "color": {"datum": "Post", "type": "nominal"}
    }
  },
  {
    "data": {"name": "effect"},
    "mark": {"type": "line", "interpolate": "step-after", "strokeWidth": 3},
    "encoding": {
      "x": {"field": "x", "type": "quantitative"},
      "y": {"field": "y", "type": "quantitative"},
      "stroke": {"datum": "Estimated Effect of During-Period", "type": "nominal",
        "scale": {"range": ["#1F3864"]},
        "legend": {"orient": "none", "legendX": 622, "legendY": 181, "padding": 0,
          "symbolType": "stroke", "symbolSize": 529, "symbolStrokeWidth": 2.5,
          "labelFont": "Lato", "labelFontSize": 18, "labelColor": "#595959", "labelLimit": 300,
          "labelOffset": 0, "labelBaseline": "top",
          "labelExpr": "['Estimated Effect of', 'During-Period']",
          "encoding": {"labels": {"dy": {"value": -10}, "lineHeight": {"value": 25}}},
          "title": null}}
    }
  }
]
}
